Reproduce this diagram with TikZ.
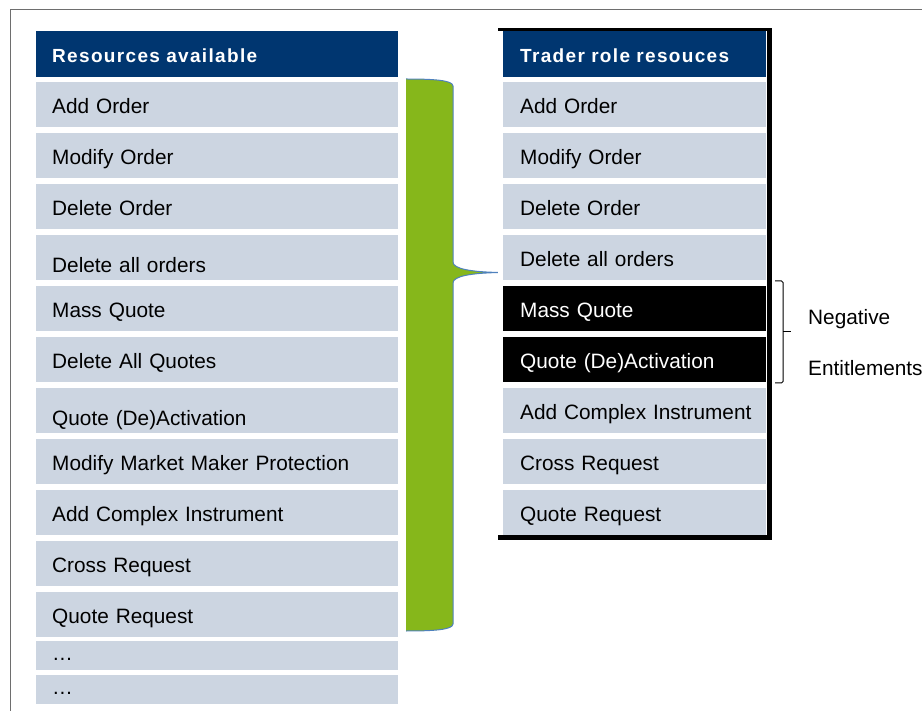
\documentclass[tikz,border=0pt]{standalone}
\usepackage{fontspec}
\setmainfont{Liberation Sans}
\newfontfamily\spacedfont[LetterSpace=7]{Liberation Sans}
\usepackage{tikz}

\definecolor{hdblue}{RGB}{0,54,112}
\definecolor{rowgray}{RGB}{204,213,225}
\definecolor{bracegreen}{RGB}{134,183,27}
\definecolor{edgeblue}{RGB}{79,129,189}
\definecolor{framegray}{RGB}{110,110,110}

\begin{document}
\begin{tikzpicture}[x=1pt,y=-1pt,
	every node/.style={font=\fontsize{20.8}{24}\selectfont},
	lrow/.style={fill=rowgray,anchor=north west,minimum height=45pt,text width=330pt,inner xsep=16pt,inner ysep=0pt,align=left,text height=22pt,text depth=4pt},
	rrow/.style={lrow,text width=229pt,inner xsep=17pt},
	neg/.style={fill=black,text=white},
	low/.style={text height=34pt},
	dots/.style={minimum height=29pt,text height=14pt},
	lhead/.style={lrow,fill=hdblue,text=white,minimum height=46pt,text height=20pt,font=\fontsize{19}{22}\selectfont\spacedfont\bfseries},
	rhead/.style={rrow,fill=hdblue,text=white,minimum height=46pt,text height=20pt,font=\fontsize{19}{22}\selectfont\spacedfont\bfseries}]
	
	\useasboundingbox (0,0) rectangle (922,711);
	\draw[framegray,line width=1pt] (10,711) -- (10,10) -- (922,10);
	
	% left column
	\node[lhead] (lh) at (36,31) {Resources available};
	\node[lrow] (l1) at (36,82)  {Add Order};
	\node[lrow] (l2) at (36,133) {Modify Order};
	\node[lrow] (l3) at (36,184) {Delete Order};
	\node[lrow,low] (l4) at (36,235) {Delete all orders};
	\node[lrow] (l5) at (36,286) {Mass Quote};
	\node[lrow] (l6) at (36,337) {Delete All Quotes};
	\node[lrow,low] (l7) at (36,388) {Quote (De)Activation};
	\node[lrow] (l8) at (36,439) {Modify Market Maker Protection};
	\node[lrow] (l9) at (36,490) {Add Complex Instrument};
	\node[lrow] (l10) at (36,541) {Cross Request};
	\node[lrow] (l11) at (36,592) {Quote Request};
	\node[lrow,dots] (l12) at (36,641) {\dots};
	\node[lrow,dots] (l13) at (36,675) {\dots};
	
	% green brace
	\fill[bracegreen] (406,79) .. controls (432,79) and (453,80) .. (453,86) -- (453,262)
		.. controls (453,269) and (472,272) .. (500,272.5) .. controls (472,273) and (453,276) .. (453,283)
		-- (453,624) .. controls (453,630) and (432,631) .. (406,631) -- cycle;
	\draw[edgeblue,line width=1pt] (406,79) .. controls (432,79) and (453,80) .. (453,86) -- (453,262)
		.. controls (453,269) and (472,272) .. (500,272.5) .. controls (472,273) and (453,276) .. (453,283)
		-- (453,624) .. controls (453,630) and (432,631) .. (406,631);
	
	% right column
	\fill[black] (498,28) rectangle (772,540);
	\fill[white] (498,31) rectangle (767,535);
	\node[rhead] (rh) at (503,31) {Trader role resouces};
	\node[rrow] (r1) at (503,82)  {Add Order};
	\node[rrow] (r2) at (503,133) {Modify Order};
	\node[rrow] (r3) at (503,184) {Delete Order};
	\node[rrow] (r4) at (503,235) {Delete all orders};
	\node[rrow,neg] (r5) at (503,286) {Mass Quote};
	\node[rrow,neg] (r6) at (503,337) {Quote (De)Activation};
	\node[rrow] (r7) at (503,388) {\mbox{Add Complex Instrument}};
	\node[rrow] (r8) at (503,439) {Cross Request};
	\node[rrow] (r9) at (503,490) {Quote Request};
	
	% negative entitlements bracket
	\draw[line width=1pt,rounded corners=1.5pt] (775,281) -- (783,281) -- (783,383) -- (775,383);
	\draw[line width=1pt] (783,332) -- (791,332);
	\node[anchor=base west,inner sep=0pt] (n1) at (808,325) {Negative};
	\node[anchor=base west,inner sep=0pt] (n2) at (808,376) {Entitlements};
	
\end{tikzpicture}
\end{document}
